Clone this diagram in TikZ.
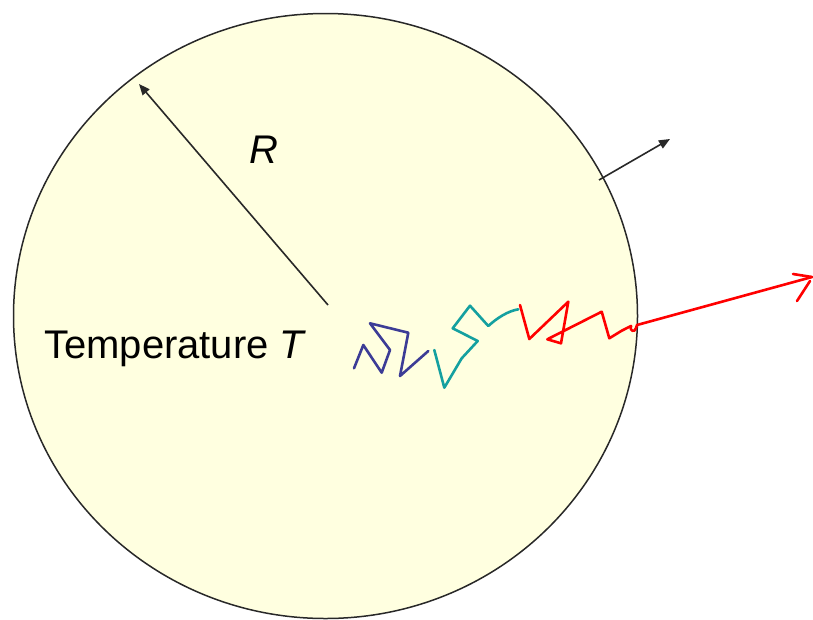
\documentclass[tikz,border=0pt]{standalone}
\usepackage{fontspec}
\setmainfont{Liberation Sans}
\usetikzlibrary{arrows.meta}
\definecolor{ballfill}{RGB}{255,255,224}
\definecolor{walkblue}{RGB}{60,60,150}
\definecolor{walkteal}{RGB}{20,160,160}
\definecolor{walkred}{RGB}{255,0,0}
\begin{document}
\begin{tikzpicture}[x=1pt,y=-1pt,
  blackarrow/.style={draw={rgb,255:red,40;green,40;blue,40},line width=1.6pt,-{Triangle[length=11pt,width=9pt]}},
  walk/.style={line width=2.6pt,line join=round,line cap=round},
  lbl/.style={inner sep=0pt,font=\fontsize{40}{46}\selectfont}]
\useasboundingbox (0,0) rectangle (813,619);
\fill[white] (0,0) rectangle (813,619);
% ball
\coordinate (c) at (325.5,316);
\draw[fill=ballfill,draw={rgb,255:red,40;green,40;blue,40},line width=1.5pt] (c) ellipse [x radius=312,y radius=302.5];
% radius arrow
\coordinate (r0) at (328,305);
\coordinate (r1) at (139,84);
\draw[blackarrow] (r0) -- (r1);
\node[lbl] (R) at (264,150) {\itshape R};
% outward arrow
\coordinate (o0) at (599,180);
\coordinate (o1) at (670,139);
\draw[blackarrow] (o0) -- (o1);
% label
\node[lbl,anchor=base west] (T) at (44,358) {Temperature \textit{T}};
% random walk
\draw[walk,walkblue] (354,368.3) -- (363.3,345) -- (381.7,372.7) -- (390,350) -- (370,323.3) -- (408.3,332.7) -- (400,376) -- (428.3,351);
\draw[walk,walkteal] (434.3,350) -- (444.3,387.7) -- (461.7,358.3) -- (477.7,341) -- (452.7,328.3) -- (470,305.7) -- (488.3,326) .. controls (497,318) and (508,311) .. (518.3,309.3);
\coordinate (tip) at (812,277);
\draw[walk,walkred] (520,305) -- (529.3,339) -- (568.3,301.7) -- (561,343.3) -- (547.3,339.3) -- (601.7,311.7) -- (609.3,338.3) -- (621.7,330.7) -- (631,326)
  .. controls (629,331) and (635,333) .. (636,328) -- (637,325) -- (tip);
\draw[walk,walkred] (793,274) -- (tip);
\draw[walk,walkred] (797,301) -- (810,281);
\end{tikzpicture}
\end{document}
